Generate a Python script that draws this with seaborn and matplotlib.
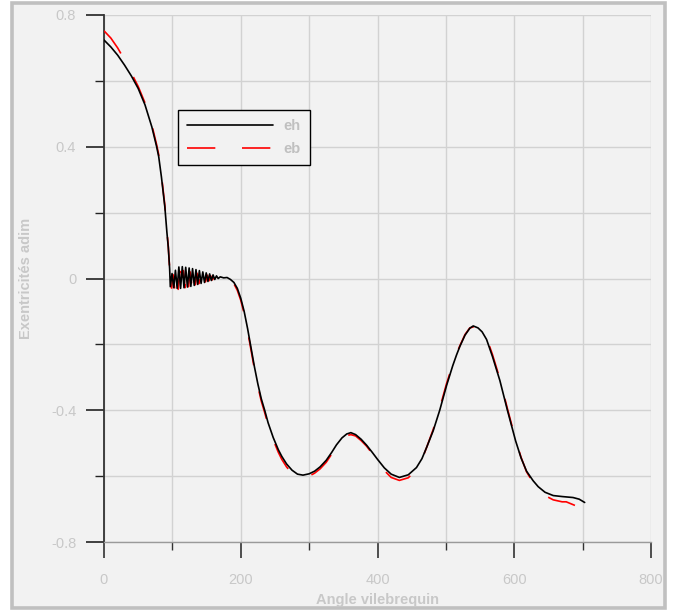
import numpy as np
import pandas as pd
import matplotlib
matplotlib.use("Agg")
import matplotlib.pyplot as plt
from matplotlib.patches import Rectangle
from matplotlib.ticker import MultipleLocator
import seaborn as sns

# ---------------- data ----------------
eh_angle = [0, 10, 20, 30, 40, 50, 60, 70, 77, 80, 84, 89, 92, 94, 96, 97,
            99.5, 102, 104.5, 107, 109.5, 112, 114.5, 117, 119.5, 122, 124.5,
            127, 129.5, 132, 134.5, 137, 139.5, 142, 144.5, 147, 149.5, 152,
            154.5, 157, 159.5, 162, 164.5, 167, 170, 175, 180,
            185, 190, 195, 200, 205, 210, 215, 220, 225, 230, 235, 240, 247.5,
            255, 260, 267, 275, 283, 291, 300, 308, 316, 325, 333, 340, 348,
            355, 361, 368, 376, 384, 392, 400, 410, 420, 432, 445, 457, 465,
            472, 481.5, 491, 501, 510, 515.6, 520.5, 528, 535, 540, 547, 553,
            559.5, 568, 579, 590, 602, 610, 618, 627.6, 635, 645, 657, 670,
            686, 695, 703]
eh_value = [0.724, 0.703, 0.678, 0.648, 0.615, 0.577, 0.527, 0.46, 0.40, 0.37,
            0.308, 0.217, 0.14, 0.095, 0.03, -0.025,
            0.015, -0.028, 0.025, -0.03, 0.035, -0.03, 0.036, -0.028, 0.034,
            -0.026, 0.032, -0.024, 0.03, -0.021, 0.027, -0.018, 0.024, -0.015,
            0.02, -0.012, 0.017, -0.009, 0.014, -0.006, 0.011, -0.003, 0.008,
            0.0, 0.005, 0.002, 0.003,
            -0.003, -0.012, -0.03, -0.06, -0.10, -0.152, -0.21, -0.268, -0.32,
            -0.365, -0.40, -0.438, -0.483, -0.52, -0.54, -0.563, -0.582,
            -0.594, -0.597, -0.593, -0.585, -0.572, -0.552, -0.528, -0.505,
            -0.484, -0.472, -0.468, -0.474, -0.488, -0.506, -0.527, -0.549,
            -0.575, -0.594, -0.604, -0.596, -0.574, -0.547, -0.512, -0.462,
            -0.40, -0.325, -0.265, -0.232, -0.206, -0.172, -0.151, -0.144,
            -0.150, -0.162, -0.185, -0.236, -0.31, -0.40, -0.493, -0.545,
            -0.585, -0.614, -0.632, -0.649, -0.659, -0.662, -0.665, -0.67,
            -0.68]

eb_angle = [0, 10, 20, 30, 40, 50, 60, 70, 77, 80, 84, 89, 92, 94, 96, 97,
            98.5, 101, 103.5, 106, 108.5, 111, 113.5, 116, 118.5, 121, 123.5,
            126, 128.5, 131, 133.5, 136, 138.5, 141, 143.5, 146, 148.5, 151,
            153.5, 156, 158.5, 161, 163.5, 166, 170, 175, 180,
            185, 190, 195, 200, 205, 210, 215, 220, 225, 230, 235, 240, 247.5,
            255, 260, 267, 275, 283, 291, 300, 308, 316, 325, 333, 340, 348,
            355, 361, 368, 376, 384, 392, 400, 410, 420, 432, 445, 457, 465,
            472, 481.5, 491, 501, 510, 515.6, 520.5, 528, 535, 540, 547, 553,
            559.5, 568, 579, 590, 602, 610, 618, 627.6, 635, 645, 657, 670,
            676, 690, 703]
eb_value = [0.752, 0.73, 0.70, 0.664, 0.624, 0.583, 0.533, 0.466, 0.406, 0.376,
            0.314, 0.222, 0.145, 0.098, 0.03, -0.02,
            -0.036, 0.012, -0.034, 0.018, -0.033, 0.022, -0.031, 0.024, -0.028,
            0.022, -0.025, 0.02, -0.022, 0.018, -0.019, 0.016, -0.016, 0.014,
            -0.013, 0.012, -0.010, 0.010, -0.007, 0.008, -0.004, 0.006, -0.002,
            0.004, 0.0, 0.002, 0.001,
            -0.006, -0.016, -0.036, -0.066, -0.107, -0.159, -0.217, -0.275,
            -0.327, -0.372, -0.407, -0.445, -0.49, -0.528, -0.549, -0.572,
            -0.592, -0.601, -0.604, -0.600, -0.591, -0.578, -0.558, -0.533,
            -0.510, -0.489, -0.477, -0.474, -0.478, -0.492, -0.509, -0.531,
            -0.554, -0.583, -0.604, -0.613, -0.605, -0.580, -0.550, -0.512,
            -0.458, -0.394, -0.319, -0.261, -0.228, -0.204, -0.170, -0.150,
            -0.147, -0.148, -0.158, -0.180, -0.230, -0.305, -0.395, -0.489,
            -0.543, -0.587, -0.620, -0.638, -0.659, -0.672, -0.678, -0.678,
            -0.69, -0.70]

series_labels = ["eh", "eb"]
x_ticks = [0, 200, 400, 600, 800]
y_ticks = [-0.8, -0.4, 0, 0.4, 0.8]
y_tick_labels = ["-0.8", "-0.4", "0", "0.4", "0.8"]
x_label = "Angle vilebrequin"
y_label = "Exentricités adim"

df_eh = pd.DataFrame({"angle": eh_angle, "value": eh_value})
df_eb = pd.DataFrame({"angle": eb_angle, "value": eb_value})

# ---------------- style ----------------
sns.set_style("white")
plt.rcParams["font.family"] = ["Liberation Sans", "DejaVu Sans"]

W, H, DPI = 674, 610, 100
fig = plt.figure(figsize=(W / DPI, H / DPI), dpi=DPI)
fig.patch.set_facecolor("white")
frame = Rectangle((12 / W, 2.5 / H), (665 - 12) / W, (607.5 - 2.5) / H,
                  transform=fig.transFigure, facecolor="#f2f2f2",
                  edgecolor="#c0c0c0", linewidth=2.6, zorder=-10)
fig.patches.append(frame)

ax = fig.add_axes([104 / W, 1 - 542 / H, (651 - 104) / W, (542 - 15) / H])
ax.set_zorder(1)
ax.set_facecolor("#f2f2f2")

sns.lineplot(data=df_eb, x="angle", y="value", ax=ax, sort=False, estimator=None,
             color="#ff0000", linewidth=1.2, linestyle=(0, (17, 16)),
             label=series_labels[1], zorder=3)
sns.lineplot(data=df_eh, x="angle", y="value", ax=ax, sort=False, estimator=None,
             color="black", linewidth=1.2, label=series_labels[0], zorder=4)

ax.set_xlim(0, 800)
ax.set_ylim(-0.8, 0.8)
ax.set_xticks(x_ticks)
ax.set_xticklabels([str(t) for t in x_ticks])
ax.set_yticks(y_ticks)
ax.set_yticklabels(y_tick_labels)
ax.xaxis.set_minor_locator(MultipleLocator(100))
ax.yaxis.set_minor_locator(MultipleLocator(0.2))

ax.grid(True, which="both", color="#d2d2d2", linewidth=1.0)
ax.set_axisbelow(True)

for s in ["top", "right"]:
    ax.spines[s].set_visible(False)
ax.spines["left"].set_color("#333333")
ax.spines["left"].set_linewidth(1.3)
ax.spines["bottom"].set_color("#9a9a9a")
ax.spines["bottom"].set_linewidth(1.0)

ax.tick_params(which="both", bottom=True, left=True, top=False, right=False)
ax.tick_params(axis="x", which="major", direction="out", length=11.5, width=1.2,
               color="#333333", labelcolor="#c8c8c8", labelsize=10.5, pad=10.5)
ax.tick_params(axis="x", which="minor", direction="out", length=6, width=1.0,
               color="#333333")
ax.tick_params(axis="y", which="major", direction="out", length=13, width=1.2,
               color="#222222", labelcolor="#c8c8c8", labelsize=10.5, pad=7)
ax.tick_params(axis="y", which="minor", direction="out", length=6.5, width=1.0,
               color="#222222")

ax.set_xlabel(x_label, color="#c8c8c8", fontsize=10.5, fontweight="bold", labelpad=4.5)
ax.set_ylabel(y_label, color="#c8c8c8", fontsize=10.5, fontweight="bold", labelpad=13)

handles, labels = ax.get_legend_handles_labels()
order = [labels.index("eh"), labels.index("eb")]
leg = ax.legend([handles[i] for i in order], [labels[i] for i in order],
                loc="upper left", bbox_to_anchor=(74 / 547, (542 - 110) / 527),
                borderaxespad=0, frameon=True, fancybox=False,
                handlelength=5.9, handletextpad=0.75, borderpad=0.6,
                labelspacing=0.62, fontsize=10.5)
leg.get_frame().set_edgecolor("black")
leg.get_frame().set_linewidth(1.0)
leg.get_frame().set_facecolor("#f2f2f2")
leg.get_frame().set_alpha(1)
for t in leg.get_texts():
    t.set_color("#c0c0c0")
    t.set_fontweight("bold")

fig.savefig("out.png", dpi=DPI, facecolor=fig.get_facecolor())
